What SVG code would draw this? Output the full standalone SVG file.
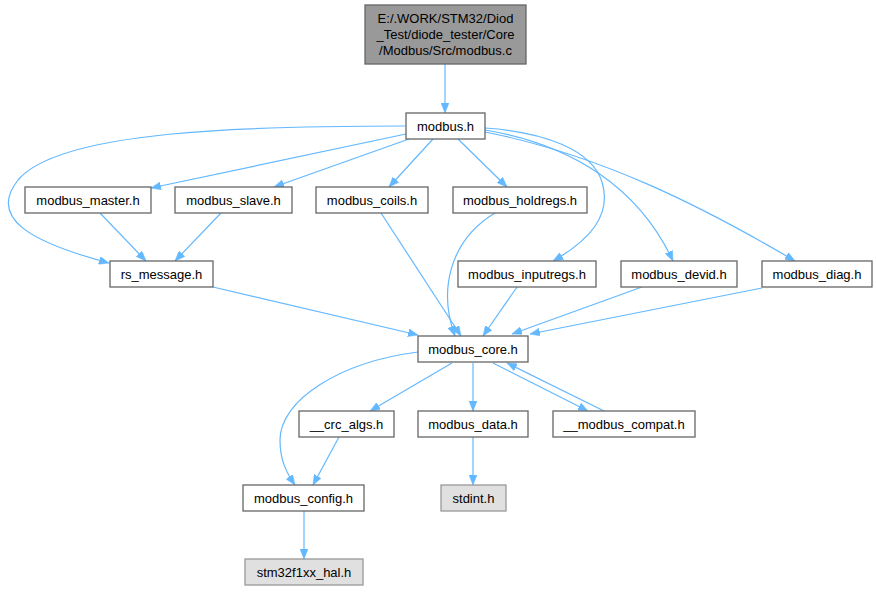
<svg xmlns="http://www.w3.org/2000/svg" width="876" height="592" viewBox="0 0 876 592">
<defs>
<style>
.n rect{fill:#ffffff;stroke:#666666;stroke-width:1.3}
.n.root rect{fill:#999999;stroke:#666666}
.n.ext rect{fill:#e0e0e0;stroke:#999999}
.n text{font-family:"Liberation Sans",Arial,sans-serif;font-size:13px;fill:#000000;text-anchor:middle}
#edges path{fill:none;stroke:#63b8ff;stroke-width:1.2;marker-end:url(#ah)}
</style>
<marker id="ah" markerUnits="userSpaceOnUse" markerWidth="11" markerHeight="8" refX="10" refY="4" orient="auto">
<path d="M0,0 L10,4 L0,8 z" fill="#63b8ff" stroke="#63b8ff" stroke-width="0.5"/>
</marker>
</defs>
<rect width="876" height="592" fill="#ffffff"/>
<g id="edges">
<path d="M445,64 L445,113"/>
<path d="M405,126 C250,126 60,130 18,180 C-12,218 30,242 109,263"/>
<path d="M406,134 L151,188"/>
<path d="M409,139 L274,187"/>
<path d="M433,139 L389,187"/>
<path d="M458,139 L507,187"/>
<path d="M485,128 C545,132 592,150 602,182 C612,215 590,240 553,261"/>
<path d="M485,130 C575,145 640,190 673,261"/>
<path d="M485,132 C600,155 700,205 795,261"/>
<path d="M100,213 L146,261"/>
<path d="M221,213 L175,261"/>
<path d="M381,213 L461,336"/>
<path d="M495,213 C450,240 438,290 455,336"/>
<path d="M213,287 L418,335"/>
<path d="M517,287 L483,336"/>
<path d="M642,287 L512,334"/>
<path d="M762,288 L530,334"/>
<path d="M418,352 C340,362 280,400 280,440 C280,460 286,472 295,485"/>
<path d="M452,363 L370,411"/>
<path d="M473,363 L473,411"/>
<path d="M493,363 L588,411"/>
<path d="M604,411 L507,363"/>
<path d="M339,437 L313,485"/>
<path d="M473,437 L473,485"/>
<path d="M304,511 L304,559"/>
</g>
<g id="n_root" class="n root"><rect x="365" y="5" width="161" height="59"/><text x="445.5" y="23">E:/.WORK/STM32/Diod</text><text x="445.5" y="39">_Test/diode_tester/Core</text><text x="445.5" y="55">/Modbus/Src/modbus.c</text></g>
<g id="n_modbus" class="n"><rect x="406" y="113" width="79" height="26"/><text x="445.5" y="130.5">modbus.h</text></g>
<g id="n_master" class="n"><rect x="25" y="187" width="126" height="26"/><text x="88" y="204.5">modbus_master.h</text></g>
<g id="n_slave" class="n"><rect x="175" y="187" width="117" height="26"/><text x="233.5" y="204.5">modbus_slave.h</text></g>
<g id="n_coils" class="n"><rect x="316" y="187" width="112" height="26"/><text x="372" y="204.5">modbus_coils.h</text></g>
<g id="n_holdregs" class="n"><rect x="453" y="187" width="134" height="26"/><text x="520" y="204.5">modbus_holdregs.h</text></g>
<g id="n_rs" class="n"><rect x="110" y="261" width="103" height="26"/><text x="161.5" y="278.5">rs_message.h</text></g>
<g id="n_inputregs" class="n"><rect x="458" y="261" width="138" height="26"/><text x="527" y="278.5">modbus_inputregs.h</text></g>
<g id="n_devid" class="n"><rect x="621" y="261" width="116" height="26"/><text x="679" y="278.5">modbus_devid.h</text></g>
<g id="n_diag" class="n"><rect x="762" y="261" width="110" height="26"/><text x="817" y="278.5">modbus_diag.h</text></g>
<g id="n_core" class="n"><rect x="418" y="336" width="110" height="26"/><text x="473" y="353.5">modbus_core.h</text></g>
<g id="n_crc" class="n"><rect x="299" y="411" width="95" height="26"/><text x="346.5" y="428.5">__crc_algs.h</text></g>
<g id="n_data" class="n"><rect x="418" y="411" width="110" height="26"/><text x="473" y="428.5">modbus_data.h</text></g>
<g id="n_compat" class="n"><rect x="553" y="411" width="142" height="26"/><text x="624" y="428.5">__modbus_compat.h</text></g>
<g id="n_config" class="n"><rect x="243" y="485" width="121" height="26"/><text x="303.5" y="502.5">modbus_config.h</text></g>
<g id="n_stdint" class="n ext"><rect x="441" y="485" width="65" height="26"/><text x="473.5" y="502.5">stdint.h</text></g>
<g id="n_stm32" class="n ext"><rect x="245" y="559" width="118" height="26"/><text x="304" y="576.5">stm32f1xx_hal.h</text></g>
</svg>
